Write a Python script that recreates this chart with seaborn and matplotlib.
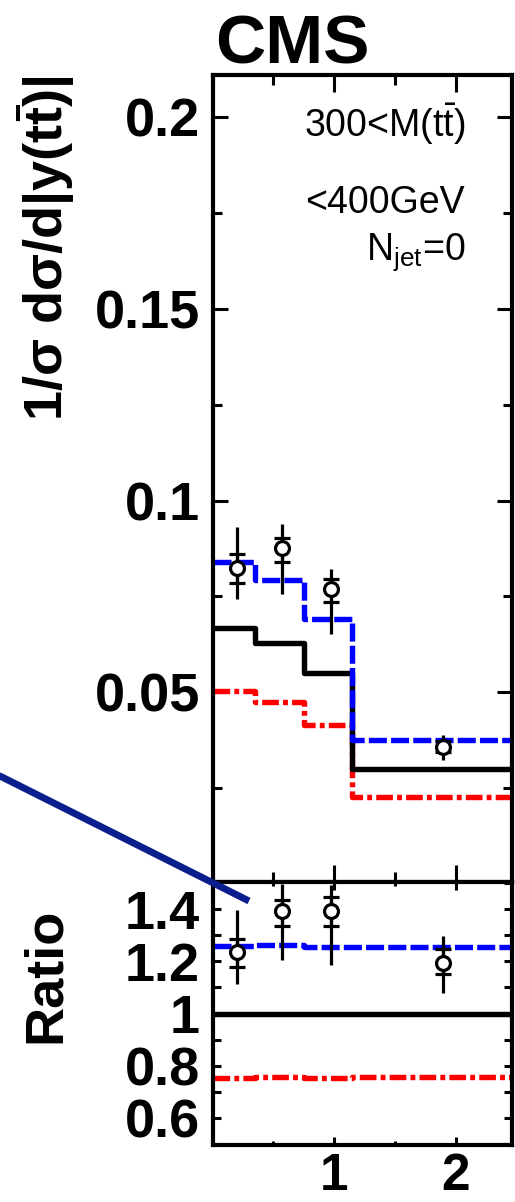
import numpy as np
import pandas as pd
import matplotlib
matplotlib.use("Agg")
import matplotlib.pyplot as plt
from matplotlib.lines import Line2D
from matplotlib.ticker import FixedLocator, MultipleLocator, FuncFormatter
import seaborn as sns

# |y(tt)| binning and normalised differential cross sections
bin_edges = [0.0, 0.35, 0.75, 1.15, 2.465]
pred_black = [0.0668, 0.0629, 0.0551, 0.0300]
pred_blue = [0.0841, 0.0794, 0.0692, 0.0376]
pred_red = [0.0504, 0.0475, 0.0415, 0.0227]

# measured points: central value, inner (stat) and outer (total) error band limits
data_x = [0.20, 0.575, 0.975, 1.90]
data_y = [0.0825, 0.0875, 0.0768, 0.0358]
stat_lo = [0.0786, 0.0841, 0.0736, 0.0345]
stat_hi = [0.0860, 0.0903, 0.0796, 0.0374]
tot_lo = [0.0744, 0.0757, 0.0653, 0.0324]
tot_hi = [0.0932, 0.0940, 0.0822, 0.0389]

main_yticks = [0.05, 0.1, 0.15, 0.2]
ratio_yticks = [0.6, 0.8, 1.0, 1.2, 1.4]
x_major = [1, 2]

sns.set_theme(style="ticks")
plt.rcParams.update({
    "font.family": ["Liberation Sans", "DejaVu Sans"],
    "mathtext.fontset": "custom",
    "mathtext.rm": "Liberation Sans",
    "mathtext.it": "Liberation Sans",
    "mathtext.bf": "Liberation Sans:bold",
    "lines.scale_dashes": False,
    "axes.linewidth": 3.0,
    "text.color": "black",
    "axes.labelcolor": "black",
    "axes.edgecolor": "black",
    "xtick.color": "black",
    "ytick.color": "black",
})

W, H = 515, 1202
fig = plt.figure(figsize=(W / 100, H / 100), dpi=100)

x_left, x_right = 212.5, 512.0
main_top, split, ratio_bot = 75.0, 882.0, 1145.0
ax = fig.add_axes([x_left / W, 1 - split / H, (x_right - x_left) / W, (split - main_top) / H])
axr = fig.add_axes([x_left / W, 1 - ratio_bot / H, (x_right - x_left) / W, (ratio_bot - split) / H],
                   sharex=ax)

edges = np.array(bin_edges)
black = np.array(pred_black)
blue = np.array(pred_blue)
red = np.array(pred_red)
dx = np.array(data_x)
dy = np.array(data_y)

styles = {
    "black": dict(color="black", linestyle="-"),
    "blue": dict(color="#0000ff", linestyle=(0, (13, 3))),
    "red": dict(color="#ff0000", linestyle=(0, (12, 3, 3.5, 3))),
}
LW = 3.9


def step_frame(values):
    vals = np.append(values, values[-1])
    return pd.DataFrame({"x": edges, "y": vals})


def draw_steps(axis, curves):
    for name, vals in curves:
        df = step_frame(vals)
        sns.lineplot(data=df, x="x", y="y", ax=axis, drawstyle="steps-post",
                     linewidth=LW, estimator=None, sort=False, legend=False,
                     solid_capstyle="butt", dash_capstyle="butt", **styles[name])


def draw_points(axis, y, lo_s, hi_s, lo_t, hi_t):
    axis.errorbar(dx, y, yerr=[y - lo_t, hi_t - y], fmt="none", ecolor="black",
                  elinewidth=2.3, capsize=0, zorder=4)
    axis.errorbar(dx, y, yerr=[y - lo_s, hi_s - y], fmt="none", ecolor="black",
                  elinewidth=2.3, capsize=6.1, capthick=2.3, zorder=4)
    sns.scatterplot(x=dx, y=y, ax=axis, marker="o", s=10.0 ** 2, facecolor="white",
                    edgecolor="black", linewidth=2.3, zorder=6, legend=False)


# ---- main panel
draw_steps(ax, [("red", red), ("black", black), ("blue", blue)])
draw_points(ax, dy, np.array(stat_lo), np.array(stat_hi), np.array(tot_lo), np.array(tot_hi))

# ---- ratio panel: everything relative to the solid prediction
bin_of_point = np.searchsorted(edges, dx) - 1
ref = black[bin_of_point]
draw_steps(axr, [("red", red / black), ("black", black / black), ("blue", blue / black)])
draw_points(axr, dy / ref, np.array(stat_lo) / ref, np.array(stat_hi) / ref,
            np.array(tot_lo) / ref, np.array(tot_hi) / ref)

fmt = FuncFormatter(lambda v, p: f"{v:g}")

ax.set_xlim(0, bin_edges[-1])
ax.set_ylim(0.0005, 0.211)
ax.yaxis.set_major_locator(FixedLocator(main_yticks))
ax.yaxis.set_minor_locator(MultipleLocator(0.025))
ax.yaxis.set_major_formatter(fmt)
ax.xaxis.set_major_locator(FixedLocator(x_major))
ax.xaxis.set_minor_locator(MultipleLocator(0.5))
ax.tick_params(axis="both", which="both", direction="in", top=True, right=True,
               width=2.2, colors="black")
ax.tick_params(axis="y", which="major", length=11, pad=9, labelsize=39)
ax.tick_params(axis="y", which="minor", length=6.5)
ax.tick_params(axis="x", which="major", length=12)
ax.tick_params(axis="x", which="minor", length=7)
ax.tick_params(axis="x", labelbottom=False)
for lab in ax.get_yticklabels():
    lab.set_fontweight("bold")

axr.set_ylim(0.496, 1.504)
axr.yaxis.set_major_locator(FixedLocator(ratio_yticks))
axr.yaxis.set_minor_locator(MultipleLocator(0.1))
axr.yaxis.set_major_formatter(fmt)
axr.xaxis.set_major_formatter(fmt)
axr.tick_params(axis="both", which="both", direction="in", top=True, right=True,
                width=2.2, colors="black")
axr.tick_params(axis="y", which="both", length=6, pad=9, labelsize=39)
axr.tick_params(axis="x", which="major", length=6, pad=5, labelsize=37)
axr.tick_params(axis="x", which="minor", length=3)
for lab in axr.get_yticklabels() + axr.get_xticklabels():
    lab.set_fontweight("bold")

for a in (ax, axr):
    a.set_xlabel("")
    a.set_ylabel("")
    for s in a.spines.values():
        s.set_visible(True)
        s.set_linewidth(3.0)
        s.set_color("black")

ax.set_ylabel(r"1/σ dσ/d|y(t$\mathbf{\bar{t}}$)|", fontsize=39, fontweight="bold")
ylab = ax.yaxis.label
ylab.set_rotation_mode("default")
ylab.set_horizontalalignment("center")
ylab.set_verticalalignment("top")
ax.yaxis.set_label_coords((46 - x_left) / (x_right - x_left), 1.0)

axr.set_ylabel("Ratio", fontsize=39, fontweight="bold")
rlab = axr.yaxis.label
rlab.set_rotation_mode("default")
rlab.set_horizontalalignment("center")
rlab.set_verticalalignment("center")
axr.yaxis.set_label_coords((46 - x_left) / (x_right - x_left), (ratio_bot - 975.5) / (ratio_bot - split))

fig.text(215 / W, 1 - 63 / H, "CMS", fontsize=50, fontweight="bold", va="baseline", ha="left")

ann_x = (465 - x_left) / (x_right - x_left)
for text, base in [(r"300<M(t$\bar{\rm t}$)", 137), ("<400GeV", 213), (r"N$_{\rm jet}$=0", 260)]:
    ax.text(ann_x, (split - base) / (split - main_top), text, transform=ax.transAxes,
            fontsize=27, ha="right", va="baseline")

# pointer line running in from the left margin
fig.add_artist(Line2D([-20 / W, 249 / W], [1 - 766 / H, 1 - 901 / H], transform=fig.transFigure,
                      color="#0b1e8e", linewidth=5.0, solid_capstyle="butt", zorder=20))

fig.savefig("out.png", dpi=100)
